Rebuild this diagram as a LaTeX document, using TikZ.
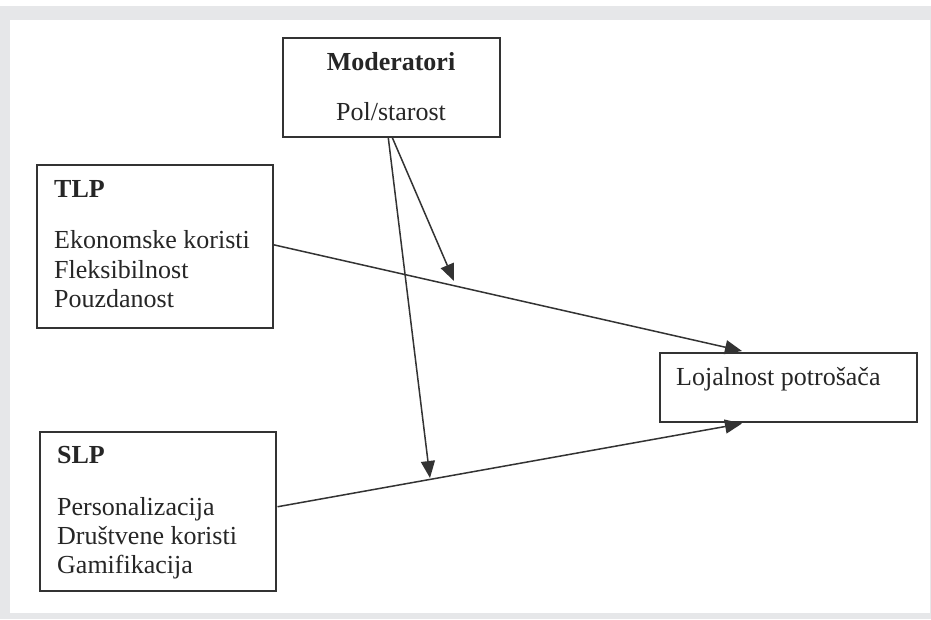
\documentclass[tikz,border=0pt]{standalone}
\usepackage{fontspec}
\setmainfont{Liberation Serif}
\usetikzlibrary{arrows.meta,calc}
\definecolor{framegray}{HTML}{E6E7E9}
\definecolor{linegray}{HTML}{333333}
\tikzset{
  box/.style={draw=linegray, line width=1.5pt, rectangle, inner sep=0pt, anchor=north west},
  lbl/.style={anchor=base west, inner sep=0pt, text=black!85, font=\fontsize{26}{30}\selectfont},
  clbl/.style={anchor=base, inner sep=0pt, text=black!85, font=\fontsize{26}{30}\selectfont},
  conn/.style={draw=linegray, line width=1.5pt, -{Triangle[length=17pt,width=14pt]}}
}
\begin{document}
\begin{tikzpicture}[x=1pt,y=-1pt]
\useasboundingbox (0,0) rectangle (931,619);
\fill[white] (0,0) rectangle (931,619);
\fill[framegray] (0,6) rectangle (931,619);
\fill[white] (10,20) rectangle (930,613);

% boxes
\node[box, minimum width=217pt, minimum height=99pt] (mod) at (282,37) {};
\node[box, minimum width=236pt, minimum height=163pt] (tlp) at (36,164) {};
\node[box, minimum width=236pt, minimum height=159pt] (slp) at (39,431) {};
\node[box, minimum width=257pt, minimum height=69pt] (loy) at (659,352) {};

% texts
\node[clbl] (modt) at (391,70) {\bfseries Moderatori};
\node[clbl] (mods) at (391,120) {Pol/starost};
\node[lbl] (tlpt) at (54,197) {\bfseries TLP};
\node[lbl] (tlp1) at (54,248) {Ekonomske koristi};
\node[lbl] (tlp2) at (54,278) {Fleksibilnost};
\node[lbl] (tlp3) at (54,307) {Pouzdanost};
\node[lbl] (slpt) at (57,463) {\bfseries SLP};
\node[lbl] (slp1) at (57,515) {Personalizacija};
\node[lbl] (slp2) at (57,544) {Društvene koristi};
\node[lbl] (slp3) at (57,573) {Gamifikacija};
\node[lbl] (loyt) at (676,385) {Lojalnost potrošača};

% connector end points
\coordinate (tlpout) at ($(tlp.east)+(0,-1.5)$);
\coordinate (slpout) at ($(slp.east)+(1,-4.5)$);
\coordinate (loyin1) at ($(loy.north west)+(83,-1)$);
\coordinate (loyin2) at ($(loy.south west)+(83,1)$);
\coordinate (modout1) at ($(mod.south)+(-3,0)$);
\coordinate (modout2) at ($(mod.south)+(1,0)$);
\coordinate (hit1) at (454,281);
\coordinate (hit2) at (430,478);

\draw[conn] (tlpout) -- (loyin1);
\draw[conn] (slpout) -- (loyin2);
\draw[conn] (modout1) -- (hit2);
\draw[conn] (modout2) -- (hit1);
\end{tikzpicture}
\end{document}
